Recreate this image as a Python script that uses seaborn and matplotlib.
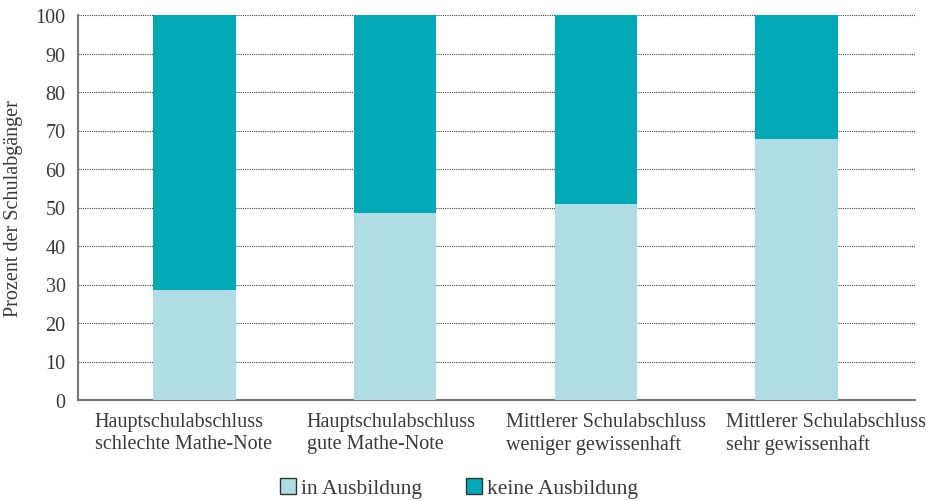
import numpy as np
import pandas as pd
import matplotlib.pyplot as plt
import matplotlib.transforms as mtransforms
import seaborn as sns
from matplotlib.patches import Patch

categories = ["Hauptschulabschluss\nschlechte Mathe-Note",
              "Hauptschulabschluss\ngute Mathe-Note",
              "Mittlerer Schulabschluss\nweniger gewissenhaft",
              "Mittlerer Schulabschluss\nsehr gewissenhaft"]
in_ausbildung = [28.6, 48.6, 50.9, 67.8]
keine_ausbildung = [100 - v for v in in_ausbildung]

light = "#b0dde3"
dark = "#00a9b5"
text_col = "#3a3a3a"

sns.set_style("white")
plt.rcParams['font.family'] = ['Liberation Serif', 'DejaVu Serif']

df = pd.DataFrame({"Kategorie": categories,
                   "in Ausbildung": in_ausbildung,
                   "keine Ausbildung": keine_ausbildung})
df["total"] = df["in Ausbildung"] + df["keine Ausbildung"]

fig = plt.figure(figsize=(9.46, 5.02), dpi=100)
ax = fig.add_axes([78/946, 1 - 401/502, (915-78)/946, (401-16)/502])

# stacked bars: total first, then lower part on top
sns.barplot(data=df, x="Kategorie", y="total", color=dark, width=0.41,
            saturation=1, linewidth=0, ax=ax, zorder=3)
sns.barplot(data=df, x="Kategorie", y="in Ausbildung", color=light, width=0.41,
            saturation=1, linewidth=0, ax=ax, zorder=3)

ax.set_ylim(0, 100)
ax.set_xlim(-0.58, 3.59)
ax.set_yticks(np.arange(0, 101, 10))
ax.yaxis.grid(True, linestyle=(0, (1, 1)), color="#444444", linewidth=0.8, zorder=0)
ax.set_axisbelow(True)

for s in ["top", "right"]:
    ax.spines[s].set_visible(False)
for s in ["left", "bottom"]:
    ax.spines[s].set_color("#777777")
    ax.spines[s].set_linewidth(1.5)

ax.set_xlabel("")
ax.set_ylabel("Prozent der Schulabgänger", fontsize=14.5, color=text_col, labelpad=9)
ax.tick_params(axis="y", labelsize=14.5, colors=text_col, length=0, pad=9)
ax.tick_params(axis="x", labelsize=14.5, colors=text_col, length=2, pad=7)

# spread the x labels a bit like in the original layout
shifts = [-11, -4, 10, 29]
for lab, dx in zip(ax.get_xticklabels(), shifts):
    lab.set_multialignment("left")
    lab.set_transform(lab.get_transform() + mtransforms.ScaledTranslation(dx / 100, 0, fig.dpi_scale_trans))

handles = [Patch(facecolor=light, edgecolor="#333333", linewidth=1, label="in Ausbildung"),
           Patch(facecolor=dark, edgecolor="#333333", linewidth=1, label="keine Ausbildung")]
fig.legend(handles=handles, loc="center", bbox_to_anchor=(459/946, 1 - 489/502), ncol=2,
           frameon=False, fontsize=15.5, handlelength=0.75, handleheight=0.75,
           handletextpad=0.25, columnspacing=2.0, labelcolor=text_col)

fig.savefig("out.png", dpi=100)
